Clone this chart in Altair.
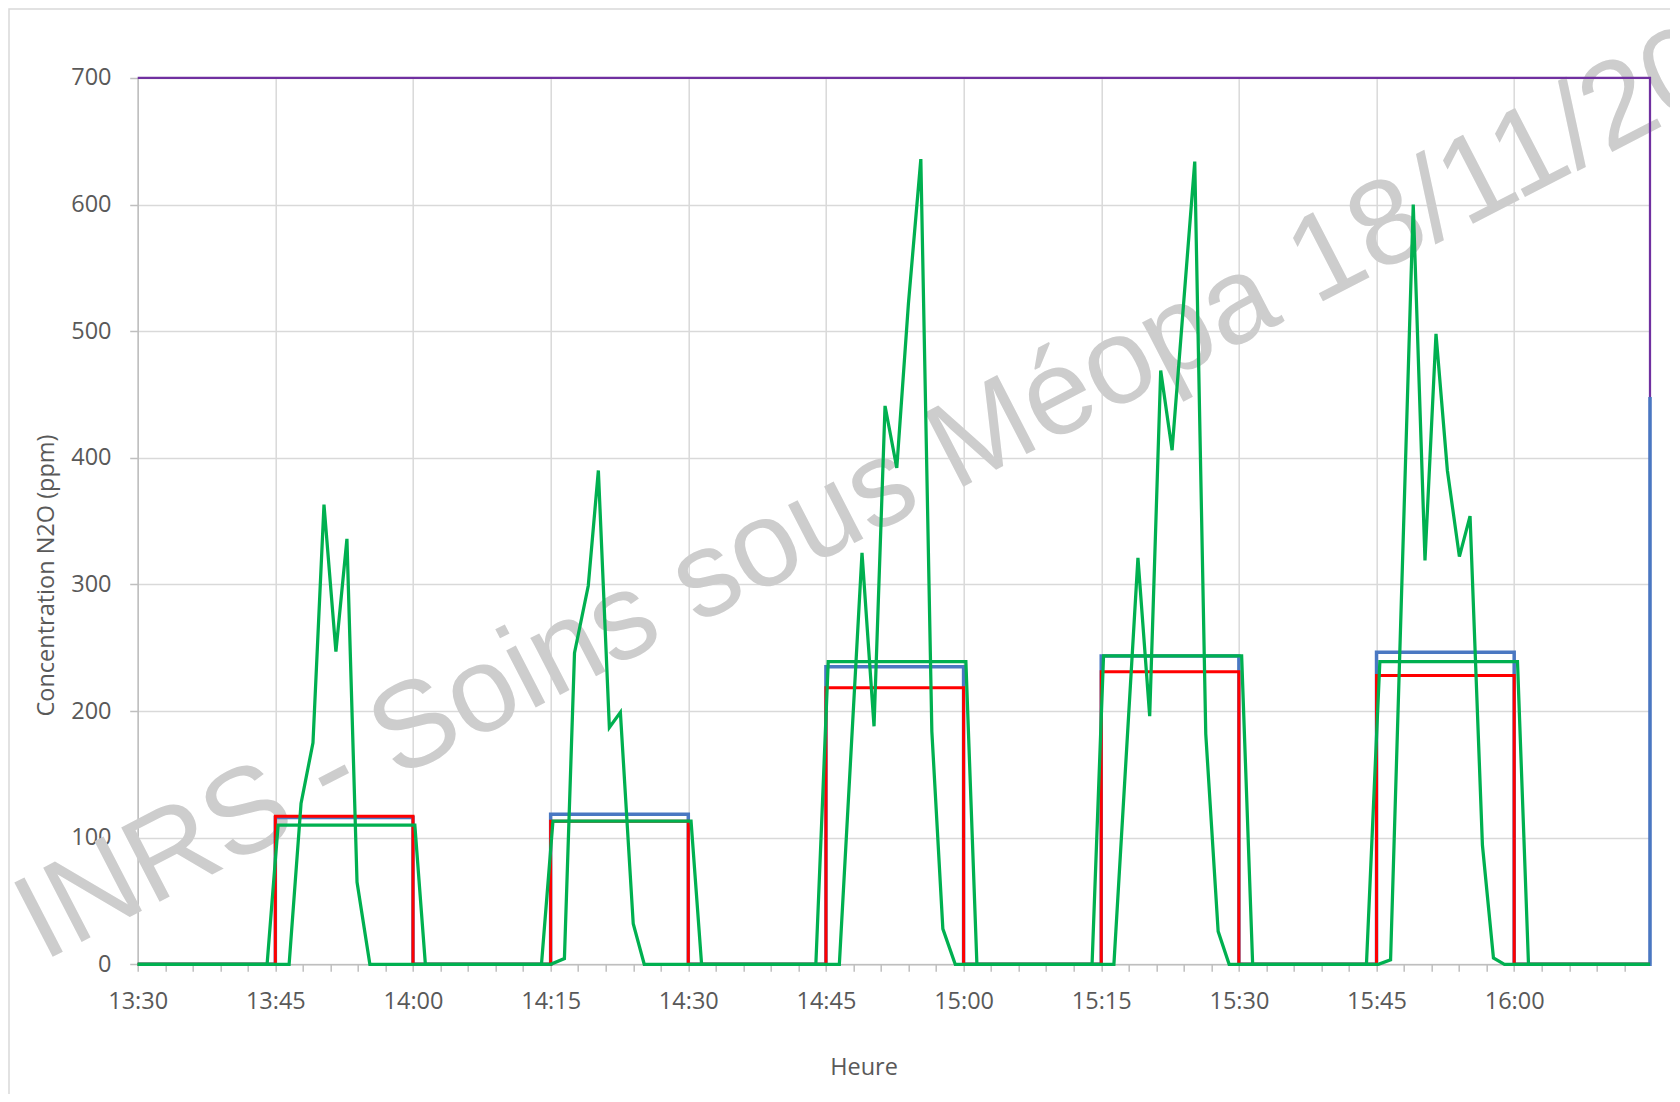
import altair as alt
import pandas as pd

# ---------------- data (minutes after 13:30, concentration in ppm) ----------------
tick_labels = ["13:30", "13:45", "14:00", "14:15", "14:30", "14:45",
               "15:00", "15:15", "15:30", "15:45", "16:00"]
x_end = 164.8

purple_t = [0, 164.8, 164.8]
purple_v = [700, 700, 0]

blue_t = [0, 15, 15, 30, 30, 45, 45, 60, 60, 75, 75, 90, 90,
          105, 105, 120, 120, 135, 135, 150, 150, 164.8, 164.8]
blue_v = [0, 0, 116, 116, 0, 0, 118.5, 118.5, 0, 0, 235, 235, 0,
          0, 243.5, 243.5, 0, 0, 246.5, 246.5, 0, 0, 448]

red_t = [0, 15, 15, 30, 30, 45, 45, 60, 60, 75, 75, 90, 90,
         105, 105, 120, 120, 135, 135, 150, 150, 164.8]
red_v = [0, 0, 117, 117, 0, 0, 113, 113, 0, 0, 218.5, 218.5, 0,
         0, 231, 231, 0, 0, 228, 228, 0, 0]

mean_t = [0, 14.1, 15.3, 30.2, 31.35, 44.0, 45.25, 60.3, 61.45,
          73.9, 75.25, 90.25, 91.45, 104.0, 105.25, 120.3, 121.5,
          133.9, 135.36, 150.36, 151.56, 164.8]
mean_v = [0, 0, 110, 110, 0, 0, 113, 113, 0,
          0, 239, 239, 0, 0, 243.5, 243.5, 0,
          0, 239, 239, 0, 0]

raw_t = [0, 16.5, 17.8, 19.1, 20.3, 21.6, 22.8, 23.9, 25.3,
         45.0, 46.5, 47.6, 49.1, 50.2, 51.4, 52.6, 54.0, 55.2,
         76.46, 78.93, 80.24, 81.44, 82.72, 83.99, 85.34, 86.54, 87.74, 89.09,
         106.38, 109.0, 110.28, 111.48, 112.72, 115.19, 116.39, 117.74, 118.94,
         135.2, 136.53, 139.0, 140.28, 141.48, 142.72, 144.03, 145.19, 146.54,
         147.74, 148.94, 164.8]
raw_v = [0, 0, 127, 175, 363, 247, 336, 65, 0,
         0, 4.5, 246, 299, 390, 187, 199, 32, 0,
         0, 325, 188, 441, 392, 522, 636, 184, 28, 0,
         0, 321, 196, 469, 406, 634, 182, 26, 0,
         0, 3.5, 600, 319, 498, 390, 322, 354, 94, 5, 0,
         0]

y_ticks = [0, 100, 200, 300, 400, 500, 600, 700]
minor_ticks = list(range(0, 163, 3))

watermark = "INRS - Soins sous Méopa 18/11/20"
y_title = "Concentration N2O (ppm)"
x_title = "Heure"

# ---------------- styling ----------------
FONT = "Open Sans"
TXT = "#595959"
GRID = "#d9d9d9"
AXIS = "#bfbfbf"
FS = 23.5

labels_js = "[" + ",".join("'" + s + "'" for s in tick_labels) + "]"

x_enc = alt.X(
    "t:Q",
    scale=alt.Scale(domain=[0, x_end], nice=False, zero=False),
    axis=alt.Axis(
        values=minor_ticks,
        labelExpr="datum.value % 15 === 0 ? " + labels_js + "[round(datum.value / 15)] : ''",
        gridOpacity={"condition": {"test": "datum.value % 15 === 0", "value": 1}, "value": 0},
        gridColor=GRID, gridWidth=1.5,
        tickColor=AXIS, tickSize=7, tickWidth=1.5,
        domainColor=AXIS, domainWidth=1.5,
        labelFont=FONT, labelFontSize=FS, labelColor=TXT,
        labelBaseline="alphabetic", labelPadding=37.7,
        labelOverlap=False, labelFlush=False,
        title=x_title, titleFont=FONT, titleFontSize=FS, titleColor=TXT,
        titleFontWeight="normal", titleX=725.8, titleY=103.7,
        titleAlign="center", titleBaseline="middle",
    ),
)
y_enc = alt.Y(
    "v:Q",
    scale=alt.Scale(domain=[0, 700], nice=False),
    axis=alt.Axis(
        values=y_ticks,
        gridColor=GRID, gridWidth=1.5,
        tickColor=AXIS, tickSize=8, tickWidth=1.5,
        domainColor=AXIS, domainWidth=1.5,
        labelFont=FONT, labelFontSize=FS, labelColor=TXT,
        labelPadding=18.7, labelFlush=False, labelOverlap=False,
        title=y_title, titleFont=FONT, titleFontSize=FS, titleColor=TXT,
        titleFontWeight="normal", titleX=-91, titleY=497,
        titleAlign="center", titleBaseline="middle", titleAngle=270,
    ),
)


def series(t, v, color, width):
    df = pd.DataFrame({"t": t, "v": v, "i": list(range(len(t)))})
    return alt.Chart(df).mark_line(color=color, strokeWidth=width).encode(
        x=x_enc, y=y_enc, order=alt.Order("i:Q")
    )


one = pd.DataFrame({"k": [0]})

frame = alt.Chart(one).mark_rect(fill=None, stroke=GRID, strokeWidth=1.5).encode(
    x=alt.value(-128.7), x2=alt.value(1700), y=alt.value(-69), y2=alt.value(1100)
)

mark = alt.Chart(one).mark_text(
    text=watermark, angle=332.7, fontSize=121.5, font="Liberation Sans",
    color="#cdcdcd", align="left", baseline="alphabetic",
).encode(x=alt.value(-95), y=alt.value(884))

chart = alt.layer(
    frame,
    mark,
    series(purple_t, purple_v, "#7030a0", 2.25),
    series(blue_t, blue_v, "#4a78c2", 3.5),
    series(red_t, red_v, "#ff0000", 3),
    series(mean_t, mean_v, "#00b050", 3.25),
    series(raw_t, raw_v, "#00b050", 3.25),
).properties(
    width=1512.3,
    height=886.3,
    autosize=alt.AutoSizeParams(type="none"),
    padding={"left": 129.7, "top": 70, "right": 20, "bottom": 129.5},
    background="white",
).configure_view(stroke=None)

chart.save("out.html", embed_options={"renderer": "svg", "actions": False})
